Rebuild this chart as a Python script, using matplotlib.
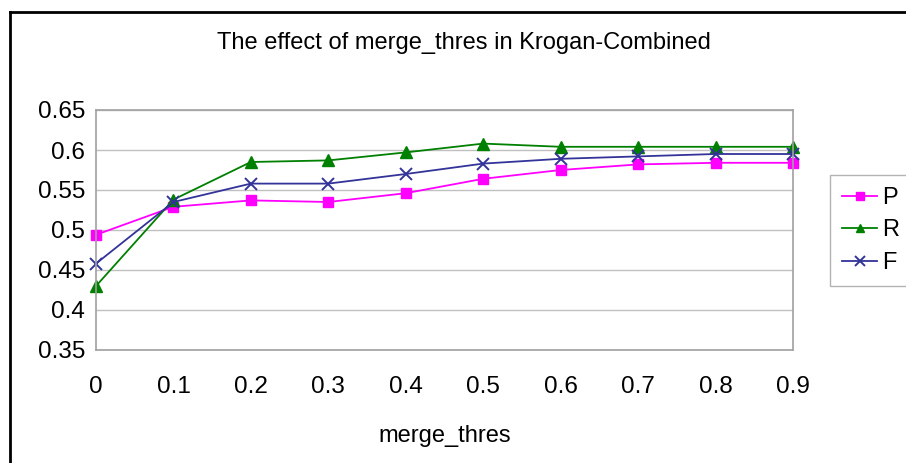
import matplotlib
matplotlib.use("Agg")
import matplotlib.pyplot as plt
from matplotlib.lines import Line2D

plt.rcParams["font.family"] = ["Liberation Sans", "DejaVu Sans"]

thres = [0.0, 0.1, 0.2, 0.3, 0.4, 0.5, 0.6, 0.7, 0.8, 0.9]
thres_labels = ["0", "0.1", "0.2", "0.3", "0.4", "0.5", "0.6", "0.7", "0.8", "0.9"]
p_vals = [0.494, 0.529, 0.537, 0.535, 0.546, 0.564, 0.575, 0.582, 0.584, 0.584]
r_vals = [0.430, 0.538, 0.585, 0.587, 0.597, 0.608, 0.604, 0.604, 0.604, 0.604]
f_vals = [0.458, 0.535, 0.558, 0.558, 0.570, 0.583, 0.589, 0.592, 0.595, 0.595]
y_ticks = [0.35, 0.4, 0.45, 0.5, 0.55, 0.6, 0.65]
y_labels = ["0.35", "0.4", "0.45", "0.5", "0.55", "0.6", "0.65"]

fig = plt.figure(figsize=(9.06, 4.63), dpi=100)
ax = fig.add_axes([96 / 906, 113 / 463, 697 / 906, 240 / 463])

ax.plot(thres, p_vals, color="#ff00ff", marker="s", ms=7, lw=1.3, label="P")
ax.plot(thres, r_vals, color="#008000", marker="^", ms=8, lw=1.3, label="R")
ax.plot(thres, f_vals, color="#333399", marker="x", ms=9, mew=1.4, lw=1.3, label="F")

ax.set_xlim(0, 0.9)
ax.set_ylim(0.35, 0.65)
ax.set_yticks(y_ticks)
ax.set_yticklabels(y_labels)
ax.set_xticks(thres)
ax.set_xticklabels(thres_labels)
ax.set_xticks(thres[1:-1], minor=True)
ax.tick_params(axis="both", which="major", length=0, labelsize=17.5)
ax.tick_params(axis="x", which="major", pad=19)
ax.tick_params(axis="y", which="major", pad=8)
ax.tick_params(axis="x", which="minor", direction="in", length=7, color="#a0a0a0")
ax.grid(axis="y", color="#c0c0c0", lw=1.0)
ax.set_axisbelow(True)
for side in ax.spines.values():
    side.set_color("#a0a0a0")
    side.set_linewidth(1.2)
for line in ax.lines:
    line.set_clip_on(False)

ax.set_xlabel("merge_thres", fontsize=17, labelpad=19)
fig.text(464 / 906, 1 - 43 / 463, "The effect of merge_thres in Krogan-Combined",
         ha="center", va="center", fontsize=17)

leg = ax.legend(loc="upper left", bbox_to_anchor=(830 / 906, 1 - 175 / 463),
                bbox_transform=fig.transFigure, fontsize=17, frameon=True,
                fancybox=False, handlelength=1.5, handletextpad=0.2,
                labelspacing=0.45, borderpad=0.5, borderaxespad=0,
                markerscale=0.75)
leg.get_frame().set_edgecolor("#a0a0a0")
leg.get_frame().set_linewidth(1.0)

# outer chart border (left and top edges visible)
fig.add_artist(Line2D([10 / 906, 10 / 906], [0, 1 - 12 / 463], transform=fig.transFigure,
                      color="black", lw=2))
fig.add_artist(Line2D([10 / 906, 1], [1 - 12 / 463, 1 - 12 / 463], transform=fig.transFigure,
                      color="black", lw=2))

fig.savefig("out.png", dpi=100)
